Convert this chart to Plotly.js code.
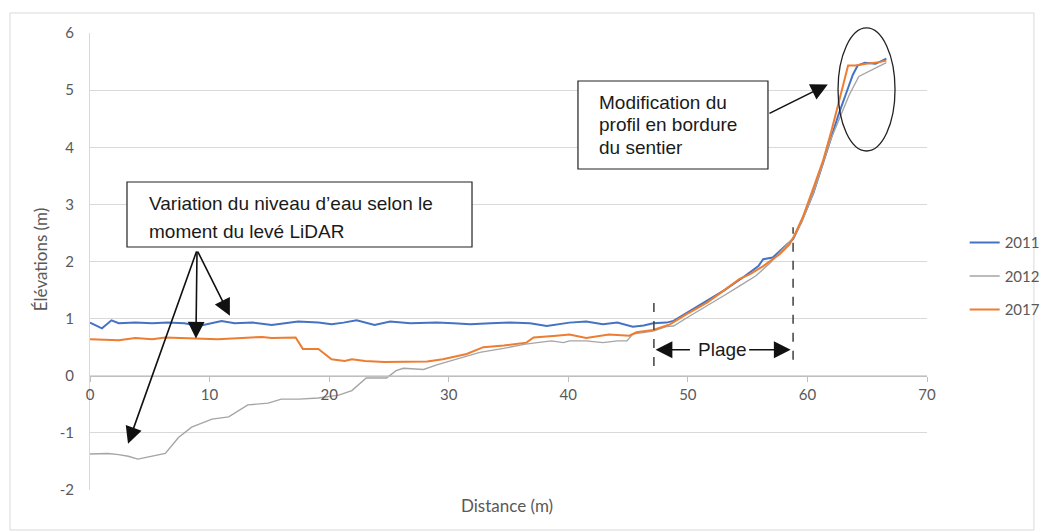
<!DOCTYPE html>
<html>
<head>
<meta charset="utf-8">
<script src="https://cdn.plot.ly/plotly-3.0.1.min.js"></script>
<style>html,body{margin:0;padding:0;background:#fff;}#chart{width:1044px;height:531px;}</style>
</head>
<body>
<div id="chart"></div>
<script>
// Series names
const seriesNames = ['2011', '2012', '2017'];

// 2011 profile (distance m, elevation m)
const x2011 = [0,1.0,1.8,2.4,3.8,5.2,6.5,7.9,9.1,10.0,11.0,12.1,13.6,15.2,16.2,17.4,19.1,20.2,21.2,22.3,23.8,25.1,26.8,29.0,30.4,31.8,33.5,35.1,36.8,38.2,40.1,41.5,42.9,44.1,45.4,46.3,47.1,48.2,48.8,50.2,51.6,53.0,54.6,55.9,56.3,57.1,58.3,58.8,59.5,60.5,61.9,62.6,63.3,63.8,64.2,64.8,65.7,66.6];
const y2011 = [0.93,0.83,0.97,0.92,0.93,0.92,0.93,0.92,0.87,0.91,0.96,0.92,0.93,0.89,0.92,0.95,0.93,0.90,0.93,0.97,0.89,0.95,0.92,0.93,0.92,0.90,0.92,0.93,0.92,0.87,0.93,0.95,0.90,0.93,0.86,0.88,0.92,0.93,0.96,1.14,1.31,1.49,1.72,1.92,2.04,2.07,2.30,2.39,2.70,3.20,4.11,4.57,4.98,5.27,5.43,5.48,5.46,5.55];

// 2012 profile
const x2012 = [0,1.5,2.4,3.2,4.0,5.2,6.3,7.4,8.5,10.2,11.6,13.2,14.9,16.0,17.5,19.1,20.8,21.9,23.1,24.8,25.6,26.2,27.9,29.0,30.6,32.6,34.6,36.3,37.4,38.6,39.6,40.1,41.5,42.9,44.1,44.9,45.4,47.1,48.2,48.8,50.2,51.6,53.0,54.3,55.7,56.9,58.0,58.8,59.5,60.5,61.9,62.7,63.5,64.3,65.2,66.6];
const y2012 = [-1.37,-1.36,-1.38,-1.41,-1.46,-1.41,-1.36,-1.08,-0.90,-0.76,-0.72,-0.51,-0.48,-0.41,-0.41,-0.39,-0.34,-0.26,-0.04,-0.04,0.09,0.13,0.11,0.19,0.29,0.41,0.48,0.55,0.58,0.61,0.58,0.61,0.61,0.58,0.61,0.61,0.73,0.78,0.86,0.87,1.05,1.22,1.40,1.57,1.75,1.98,2.24,2.41,2.68,3.20,4.11,4.52,4.92,5.24,5.33,5.48];

// 2017 profile
const x2017 = [0,2.4,3.8,5.2,6.3,7.9,10.7,13.5,14.4,15.2,17.2,17.8,19.1,20.2,21.3,21.9,23.0,24.6,26.2,28.2,29.5,31.5,32.9,34.6,36.5,37.1,39.0,40.1,41.5,42.9,43.4,45.1,45.7,47.1,48.5,49.9,51.6,53.0,54.3,55.2,56.3,57.7,58.5,58.9,59.6,60.5,61.3,62.0,62.6,63.0,63.4,64.0,64.9,66.0,66.6];
const y2017 = [0.64,0.62,0.66,0.64,0.67,0.66,0.64,0.67,0.68,0.66,0.67,0.47,0.47,0.29,0.26,0.29,0.26,0.24,0.24,0.25,0.29,0.38,0.50,0.53,0.58,0.67,0.70,0.72,0.66,0.70,0.72,0.70,0.76,0.80,0.90,1.08,1.28,1.49,1.69,1.78,1.92,2.13,2.30,2.45,2.77,3.29,3.76,4.28,4.75,5.10,5.43,5.43,5.46,5.49,5.52];

// Axis ticks
const yTickVals = [-2,-1,0,1,2,3,4,5,6];
const yTickText = ['-2','-1','0','1','2','3','4','5','6'];
const xTickVals = [0,10,20,30,40,50,60,70];
const xTickText = ['0','10','20','30','40','50','60','70'];

// Text
const box1Lines = ["Variation du niveau d\u2019eau selon le", "moment du lev\u00e9 LiDAR"];
const box2Lines = ["Modification du", "profil en bordure", "du sentier"];

const colors = ['#4472C4', '#A5A5A5', '#ED7D31'];
const widths = [2, 1.4, 2];
const xs = [x2011, x2012, x2017];
const ys = [y2011, y2012, y2017];

const traces = seriesNames.map((n, i) => ({
  x: xs[i], y: ys[i], name: n, type: 'scatter', mode: 'lines',
  line: {color: colors[i], width: widths[i]}, legendgroup: 'g' + i
}));

const tickFont = {family: 'Lato, sans-serif', size: 15, color: '#595959'};
const boxFont = {family: 'Liberation Sans, Arial, sans-serif', size: 19, color: '#1a1a1a'};

const annotations = [];
// axis titles
annotations.push({xref:'paper', yref:'paper', x:0.498, y:-0.035, text:'Distance (m)', showarrow:false,
  font:{family:'Lato, sans-serif', size:17, color:'#595959'}, xanchor:'center', yanchor:'middle'});
annotations.push({xref:'paper', yref:'paper', x:-0.0597, y:0.503, text:'\u00c9l\u00e9vations (m)', showarrow:false,
  textangle:-90, font:{family:'Lato, sans-serif', size:17, color:'#595959'}, xanchor:'center', yanchor:'middle'});
// box texts
const b1y = [0.628, 0.5646];
box1Lines.forEach((t, i) => annotations.push({xref:'paper', yref:'paper', x:0.0681, y:b1y[i], text:t,
  showarrow:false, xanchor:'left', yanchor:'middle', font:boxFont}));
const b2y = [0.849, 0.7987, 0.7505];
box2Lines.forEach((t, i) => annotations.push({xref:'paper', yref:'paper', x:0.6057, y:b2y[i], text:t,
  showarrow:false, xanchor:'left', yanchor:'middle', font:boxFont}));
// Plage text
annotations.push({xref:'x', yref:'y', x:52.9, y:0.455, text:'Plage', showarrow:false, font:boxFont,
  xanchor:'center', yanchor:'middle'});
// arrows
const arrowDef = (x, y, ax, ay) => ({xref:'x', yref:'y', axref:'x', ayref:'y', x:x, y:y, ax:ax, ay:ay,
  text:'', showarrow:true, arrowhead:2, arrowsize:2.1, arrowwidth:1.6, arrowcolor:'#111111', standoff:0, startstandoff:0});
annotations.push(arrowDef(3.18, -1.19, 8.95, 2.2));
annotations.push(arrowDef(8.86, 0.65, 8.95, 2.2));
annotations.push(arrowDef(11.7, 1.05, 8.95, 2.2));
annotations.push(arrowDef(61.7, 5.1, 56.7, 4.58));
annotations.push(arrowDef(47.3, 0.455, 50.3, 0.455));
annotations.push(arrowDef(58.6, 0.455, 55.0, 0.455));

const shapes = [
  // outer frame
  {type:'rect', xref:'paper', yref:'paper', x0:-0.0956, x1:1.1278, y0:-0.0875, y1:1.0438,
   line:{color:'#d9d9d9', width:1}, fillcolor:'rgba(0,0,0,0)', layer:'below'},
  // boxes
  {type:'rect', xref:'paper', yref:'paper', x0:0.0442, x1:0.4564, y0:0.5317, y1:0.674,
   line:{color:'#222222', width:1.2}, fillcolor:'#ffffff', layer:'above'},
  {type:'rect', xref:'paper', yref:'paper', x0:0.583, x1:0.810, y0:0.7024, y1:0.895,
   line:{color:'#222222', width:1.2}, fillcolor:'#ffffff', layer:'above'},
  // ellipse
  {type:'circle', xref:'paper', yref:'paper', x0:0.8937, x1:0.9618, y0:0.7418, y1:1.011,
   line:{color:'#222222', width:1.3}, fillcolor:'rgba(0,0,0,0)', layer:'above'},
  // dashed Plage limits
  {type:'line', xref:'x', yref:'y', x0:47.16, x1:47.16, y0:0.17, y1:1.33,
   line:{color:'#404040', width:1.5, dash:'dash'}, layer:'above'},
  {type:'line', xref:'x', yref:'y', x0:58.8, x1:58.8, y0:0.28, y1:2.6,
   line:{color:'#404040', width:1.5, dash:'dash'}, layer:'above'}
];

const layout = {
  width: 1044, height: 531,
  margin: {l:90, r:117, t:33, b:41, pad:0, autoexpand:false},
  paper_bgcolor:'#ffffff', plot_bgcolor:'#ffffff',
  showlegend: true,
  legend: {x:1.045, y:0.577, xanchor:'left', yanchor:'top', font:tickFont, tracegroupgap:11,
    bgcolor:'rgba(0,0,0,0)', borderwidth:0},
  xaxis: {range:[0,70], tickvals:xTickVals, ticktext:xTickText, anchor:'free', position:0.25,
    showgrid:false, zeroline:false, showline:true, linecolor:'#bfbfbf', linewidth:1.3,
    ticks:'outside', ticklen:5, tickcolor:'#bfbfbf', tickfont:tickFont, fixedrange:true, automargin:false},
  yaxis: {range:[-2,6], tickvals:yTickVals, ticktext:yTickText, showgrid:true, gridcolor:'#d9d9d9',
    gridwidth:1, zeroline:false, showline:true, linecolor:'#d9d9d9', ticks:'', tickfont:tickFont,
    ticklabelstandoff:12, fixedrange:true, automargin:false},
  annotations: annotations,
  shapes: shapes
};

Plotly.newPlot('chart', traces, layout, {displayModeBar:false, staticPlot:true});
</script>
</body>
</html>
